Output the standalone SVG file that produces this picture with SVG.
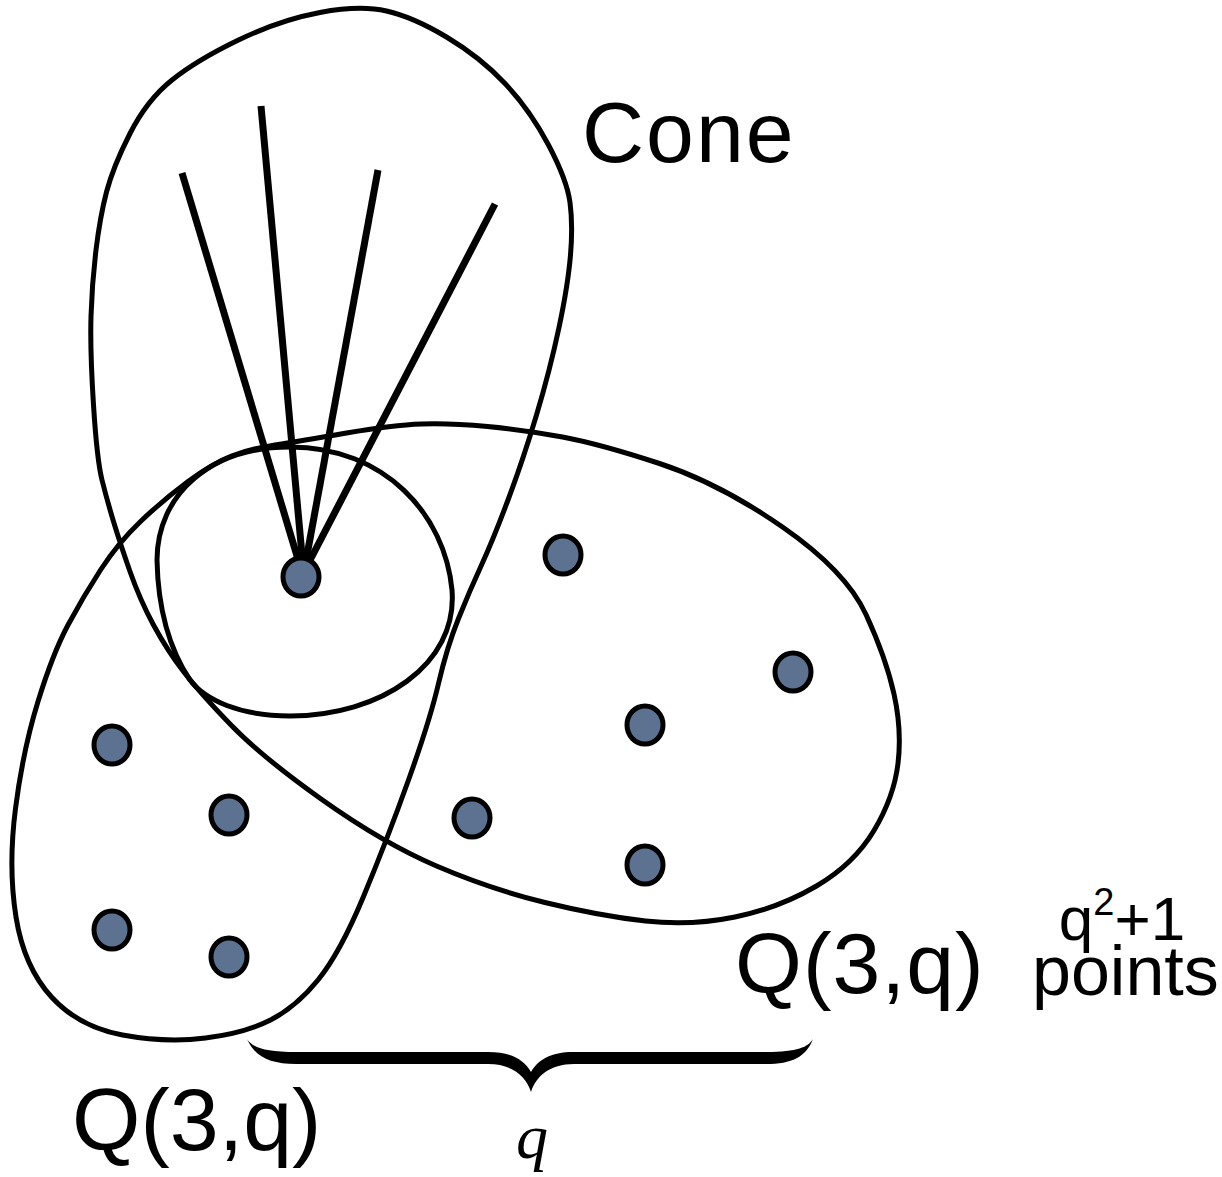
<svg xmlns="http://www.w3.org/2000/svg" width="1222" height="1177" viewBox="0 0 1222 1177">
<style>
.outline{fill:none;stroke:#000;stroke-width:5;stroke-linejoin:round}
.spoke{stroke:#000;stroke-width:7;stroke-linecap:butt}
.pt{fill:#5d7191;stroke:#000;stroke-width:5}
.lbl{font-family:"Liberation Sans","Noto Sans",Arial,sans-serif;fill:#000}
</style>
<rect width="1222" height="1177" fill="#fff"/>
<g id="lobes">
<path class="outline" d="M 386.5,11 Q 413,17 446.5,37 Q 480,57 505,83.5 Q 530,110 548.5,145 Q 567,180 570,202.5 Q 573,225 570.5,255 Q 568,285 559,327.5 Q 550,370 536.5,415 Q 523,460 508,500 Q 493,540 481.5,565 Q 470,590 458.5,618.5 Q 447,647 438.5,683.5 Q 430,720 408.5,780 Q 387,840 363.5,896.5 Q 340,953 318,980 Q 296,1007 270.5,1020 Q 245,1033 205.5,1038 Q 166,1043 122.5,1035 Q 79,1027 51.5,997 Q 24,967 16,917 Q 8,867 15.5,808.5 Q 23,750 38,701.5 Q 53,653 68,625 Q 83,597 100.5,570 Q 118,543 140.5,521.5 Q 163,500 188,481.5 Q 213,463 231.5,456 Q 250,449 275,445 Q 300,441 346.5,433 Q 393,425 421.5,424 Q 450,423 487.5,426.5 Q 525,430 562.5,437 Q 600,444 659.5,463.5 Q 719,483 782.5,527 Q 846,571 866,614.5 Q 886,658 894,694 Q 902,730 898,763.5 Q 894,797 874,830.5 Q 854,864 816.5,886 Q 779,908 735,917 Q 691,926 645.5,921 Q 600,916 545,902.5 Q 490,889 436.5,866 Q 383,843 322.5,800 Q 262,757 231,725 Q 200,693 183.5,671.5 Q 167,650 153.5,625 Q 140,600 130,571.5 Q 120,543 113.5,521.5 Q 107,500 102,480 Q 97,460 93.5,405 Q 90,350 91,316.5 Q 92,283 96,250 Q 100,217 106.5,192 Q 113,167 130,133.5 Q 147,100 172,80 Q 197,60 238.5,40 Q 280,20 320,12.5 Q 360,5 386.5,11 Z"/>
</g>
<g id="small-circle">
<path class="outline" d="M 290,447 C 385,447 445,515 452,590 C 458,665 380,716 290,716 C 240,716 205,700 190,680 C 170,650 158,610 157,560 C 157,495 210,447 290,447 Z"/>
</g>
<g id="connectors">
<line class="spoke" x1="182" y1="173" x2="300" y2="566"/>
<line class="spoke" x1="261" y1="106" x2="303" y2="566"/>
<line class="spoke" x1="378" y1="170" x2="305" y2="566"/>
<line class="spoke" x1="495" y1="204" x2="307" y2="566"/>
</g>
<g id="apex"><ellipse class="pt" cx="301" cy="577" rx="18" ry="19"/></g>
<g id="points">
<ellipse class="pt" cx="563" cy="555" rx="18" ry="19"/>
<ellipse class="pt" cx="793" cy="672" rx="18" ry="19"/>
<ellipse class="pt" cx="645" cy="725" rx="18" ry="19"/>
<ellipse class="pt" cx="472" cy="818" rx="18" ry="19"/>
<ellipse class="pt" cx="645" cy="865" rx="18" ry="19"/>
<ellipse class="pt" cx="112" cy="745" rx="18" ry="19"/>
<ellipse class="pt" cx="229" cy="815" rx="18" ry="19"/>
<ellipse class="pt" cx="112" cy="930" rx="18" ry="19"/>
<ellipse class="pt" cx="229" cy="957" rx="18" ry="19"/>
</g>
<g id="brace">
<path fill="#000" d="M 247,1039 C 255,1057 270,1064 296,1064 L 488,1064 C 512,1064 526,1076 531,1092 C 536,1076 550,1064 574,1064 L 766,1064 C 792,1064 806,1057 813,1039 C 808,1047 798,1052 766,1052 L 574,1052 C 550,1052 538,1060 531,1072 C 524,1060 512,1052 488,1052 L 296,1052 C 264,1052 252,1047 247,1039 Z"/>
</g>
<g id="labels">
<text class="lbl" x="582" y="162" font-size="86" letter-spacing="2">Cone</text>
<text class="lbl" x="735" y="993" font-size="86" letter-spacing="1">Q(3,q)</text>
<text class="lbl" x="72" y="1150" font-size="88">Q(3,q)</text>
<text class="lbl" x="1122" y="940" font-size="62" text-anchor="middle">q<tspan font-size="38" dy="-25">2</tspan><tspan dy="25">+1</tspan></text>
<text class="lbl" x="1032" y="995" font-size="70">points</text>
<text x="532" y="1158" font-size="64" font-style="italic" font-family="'Liberation Serif','Times New Roman',serif" text-anchor="middle">q</text>
</g>
</svg>
